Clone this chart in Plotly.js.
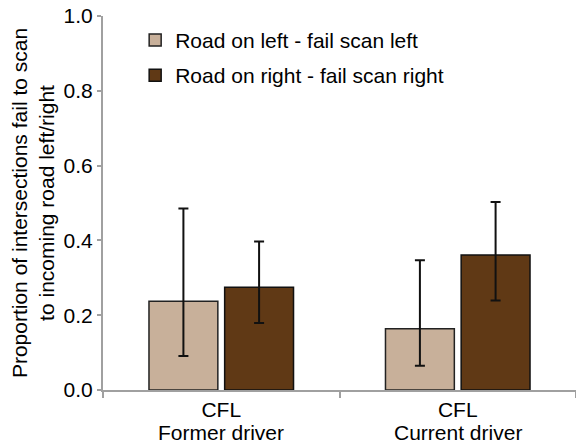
<!DOCTYPE html>
<html>
<head>
<meta charset="utf-8">
<script src="https://cdn.plot.ly/plotly-3.0.1.min.js"></script>
<style>html,body{margin:0;padding:0;background:#fff;}#chart{width:576px;height:446px;}</style>
</head>
<body>
<div id="chart"></div>
<script>
var groups = ["Former driver", "Current driver"];
var groupPrefix = ["CFL", "CFL"];
var seriesNames = ["Road on left - fail scan left", "Road on right - fail scan right"];
var leftValues = [0.237, 0.164];
var leftUpper = [0.485, 0.347];
var leftLower = [0.091, 0.065];
var rightValues = [0.275, 0.361];
var rightUpper = [0.397, 0.503];
var rightLower = [0.179, 0.239];
var yTicks = [0, 0.2, 0.4, 0.6, 0.8, 1.0];
var yTickLabels = ["0.0", "0.2", "0.4", "0.6", "0.8", "1.0"];
var colors = ["#c8b09a", "#603915"];

function plus(v, u) { return v.map(function (x, i) { return u[i] - x; }); }
function minus(v, l) { return v.map(function (x, i) { return x - l[i]; }); }

var font = "Liberation Sans, Arial, Helvetica, sans-serif";
var fs = 21;

var traces = [
  {
    type: "bar", x: groups, y: leftValues, name: seriesNames[0], legendgroup: "a",
    marker: {color: colors[0], line: {color: "#222", width: 1.5}},
    error_y: {type: "data", symmetric: false, array: plus(leftValues, leftUpper), arrayminus: minus(leftValues, leftLower), color: "#111", thickness: 2, width: 5}
  },
  {
    type: "bar", x: groups, y: rightValues, name: seriesNames[1], legendgroup: "b",
    marker: {color: colors[1], line: {color: "#111", width: 1.5}},
    error_y: {type: "data", symmetric: false, array: plus(rightValues, rightUpper), arrayminus: minus(rightValues, rightLower), color: "#111", thickness: 2, width: 5}
  }
];

var annotations = groups.map(function (g) {
  return {x: g, xref: "x", y: 0, yref: "paper", yanchor: "top", yshift: -29, text: g, showarrow: false,
          font: {family: font, size: fs, color: "#000"}};
});

var layout = {
  width: 576, height: 446,
  margin: {l: 103, r: 0, t: 16, b: 56},
  paper_bgcolor: "#fff", plot_bgcolor: "#fff",
  font: {family: font, size: fs, color: "#000"},
  barmode: "group", bargap: 0.36, bargroupgap: 0.09,
  showlegend: true,
  legend: {x: 0.068, y: 0.99, xanchor: "left", yanchor: "top", traceorder: "grouped", tracegroupgap: 5,
           font: {family: font, size: fs, color: "#000"}, bgcolor: "rgba(0,0,0,0)"},
  annotations: annotations,
  xaxis: {
    type: "category", range: [-0.5, 1.5], tickvals: groups, ticktext: groupPrefix,
    showline: true, linecolor: "#a0a0a0", linewidth: 2,
    ticks: "outside", tickson: "boundaries", ticklen: 6, tickcolor: "#a0a0a0", tickwidth: 2,
    showgrid: false, zeroline: false, tickfont: {family: font, size: fs, color: "#000"}
  },
  yaxis: {
    range: [0, 1], tickvals: yTicks, ticktext: yTickLabels, showline: true, linecolor: "#a0a0a0", linewidth: 2,
    ticks: "outside", ticklen: 4, tickcolor: "#a0a0a0", tickwidth: 2, showgrid: false, zeroline: false,
    tickfont: {family: font, size: fs, color: "#000"},
    title: {text: "Proportion of intersections fail to scan<br>to incoming road left/right", font: {family: font, size: fs, color: "#000"}, standoff: 3}
  }
};

Plotly.newPlot("chart", traces, layout, {displayModeBar: false, staticPlot: true});
</script>
</body>
</html>
